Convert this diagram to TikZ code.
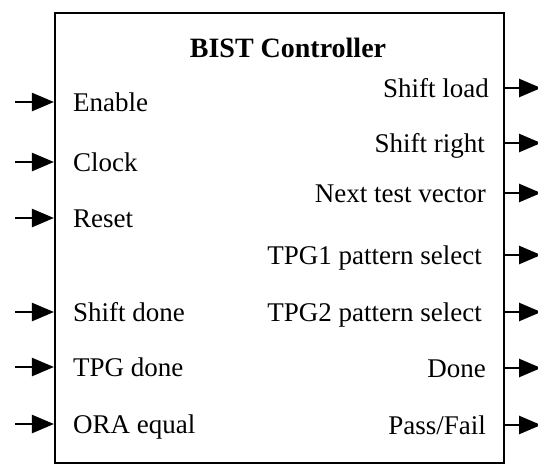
\documentclass[tikz,border=0pt]{standalone}
\usepackage{fontspec}
\setmainfont{Liberation Serif}
\usetikzlibrary{arrows.meta,positioning}

\begin{document}
\begin{tikzpicture}[x=1pt, y=-1pt, every node/.style={font=\fontsize{27}{30}\selectfont, inner sep=0pt},
  sig/.style={-{Triangle[length=22pt,width=18pt]}, line width=2.6pt},
  inl/.style={anchor=base west},
  outl/.style={anchor=base east}]
\useasboundingbox (0,0) rectangle (538,466);
% Controller block
\node[draw, line width=2.2pt, minimum width=449pt, minimum height=450pt] (ctrl) at (279.5,238) {};
\node[anchor=base, font=\fontsize{28}{30}\selectfont\bfseries] (title) at (288,57) {BIST Controller};
% Inputs
\node[inl] (en) at (73,111) {Enable};
\node[inl] (clk) at (73,171) {Clock};
\node[inl] (rst) at (73,227) {Reset};
\node[inl] (sdone) at (73,321) {Shift done};
\node[inl] (tdone) at (73,376) {TPG done};
\node[inl] (oeq) at (73,433) {ORA equal};
\coordinate (en-in) at (15,102);
\coordinate (clk-in) at (15,162);
\coordinate (rst-in) at (15,218);
\coordinate (sdone-in) at (15,312);
\coordinate (tdone-in) at (15,367);
\coordinate (oeq-in) at (15,424);
\draw[sig] (en-in) -- (en-in -| ctrl.west);
\draw[sig] (clk-in) -- (clk-in -| ctrl.west);
\draw[sig] (rst-in) -- (rst-in -| ctrl.west);
\draw[sig] (sdone-in) -- (sdone-in -| ctrl.west);
\draw[sig] (tdone-in) -- (tdone-in -| ctrl.west);
\draw[sig] (oeq-in) -- (oeq-in -| ctrl.west);
% Outputs
\node[outl] (sload) at (489,97) {Shift load};
\node[outl] (sright) at (485,152) {Shift right};
\node[outl] (ntv) at (486,202) {Next test vector};
\node[outl] (tpg1) at (482,264) {TPG1 pattern select};
\node[outl] (tpg2) at (482,321) {TPG2 pattern select};
\node[outl] (done) at (486,377) {Done};
\node[outl] (pf) at (486,434) {Pass/Fail};
\coordinate (sload-out) at (541,88);
\coordinate (sright-out) at (541,143);
\coordinate (ntv-out) at (541,193);
\coordinate (tpg1-out) at (541,255);
\coordinate (tpg2-out) at (541,312);
\coordinate (done-out) at (541,368);
\coordinate (pf-out) at (541,425);
\draw[sig] (sload-out -| ctrl.east) -- (sload-out);
\draw[sig] (sright-out -| ctrl.east) -- (sright-out);
\draw[sig] (ntv-out -| ctrl.east) -- (ntv-out);
\draw[sig] (tpg1-out -| ctrl.east) -- (tpg1-out);
\draw[sig] (tpg2-out -| ctrl.east) -- (tpg2-out);
\draw[sig] (done-out -| ctrl.east) -- (done-out);
\draw[sig] (pf-out -| ctrl.east) -- (pf-out);
\end{tikzpicture}
\end{document}
